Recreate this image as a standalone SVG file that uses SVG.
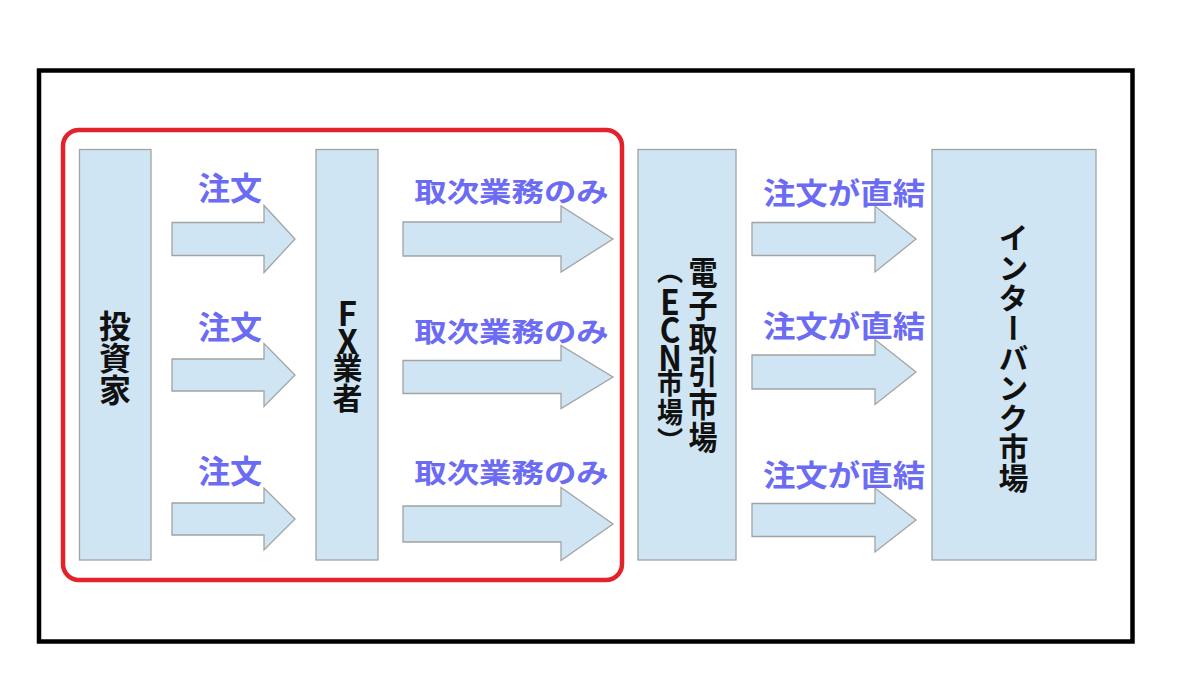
<svg xmlns="http://www.w3.org/2000/svg" width="1188" height="697" viewBox="0 0 1188 697">
<style>
.box{fill:#cfe5f3;stroke:#a3a3a3;stroke-width:1.3}
.arr{fill:#cfe5f3;stroke:#a3a3a3;stroke-width:1.3;stroke-linejoin:miter}
.lbl{font-family:"Noto Sans CJK JP","Noto Sans CJK SC",sans-serif;font-weight:bold;fill:#6b6bf3;text-anchor:middle}
.vt{font-family:"Noto Sans CJK JP","Noto Sans CJK SC",sans-serif;font-weight:bold;fill:#111;writing-mode:vertical-rl;text-orientation:upright;text-anchor:middle}
</style>
<rect width="1188" height="697" fill="#fff"/>
<rect id="frame" x="39" y="70.5" width="1093.5" height="571" fill="none" stroke="#000" stroke-width="4.5"/>
<rect id="broker-group" x="63" y="130" width="559" height="450" rx="16" fill="none" stroke="#e3232b" stroke-width="4.5"/>
<g id="investor">
<rect class="box" x="79.5" y="149.5" width="71.5" height="410.5"/>
<text class="vt" x="115" y="358" font-size="32">投資家</text>
</g>
<g id="fx-broker">
<rect class="box" x="316" y="149.5" width="62" height="410.5"/>
<text class="vt" x="347.5" y="355" font-size="30"><tspan font-size="33" letter-spacing="-5">FX</tspan>業者</text>
</g>
<g id="ecn">
<rect class="box" x="638" y="149.5" width="98" height="410.5"/>
<text class="vt" transform="translate(703,355) scale(0.88,1)" x="0" y="0" font-size="33">電子取引市場</text>
<text class="vt" transform="translate(670,355) scale(0.9,1)" x="0" y="0" font-size="29">（<tspan font-size="35" letter-spacing="-7">ECN</tspan>市場）</text>
</g>
<g id="interbank">
<rect class="box" x="932" y="149.5" width="164" height="410.5"/>
<text class="vt" x="1013.5" y="357.5" font-size="30">インターバンク市場</text>
</g>
<g id="connectors">
<path class="arr" d="M172,222.5H264V205.5L295,239L264,272.5V255.5H172Z"/>
<path class="arr" d="M172,359H264V343.5L295,375L264,406.5V391H172Z"/>
<path class="arr" d="M172,503H264V488L295,519L264,550V535H172Z"/>
<path class="arr" d="M403,222H561V206L613,239L561,272V256H403Z"/>
<path class="arr" d="M403,360.5H561V345.5L613,377L561,408.5V393.5H403Z"/>
<path class="arr" d="M403,506H561V487.5L613,524L561,560.5V542H403Z"/>
<path class="arr" d="M752,222.5H875V206L916,239L875,272V255.5H752Z"/>
<path class="arr" d="M752,355H875V339.5L916,372L875,404.5V389H752Z"/>
<path class="arr" d="M752,503.5H875V488L916,520L875,552V536.5H752Z"/>
<text class="lbl" font-size="31.5" transform="translate(230,200) scale(1.02,1)">注文</text>
<text class="lbl" font-size="31.5" transform="translate(230,338.5) scale(1.02,1)">注文</text>
<text class="lbl" font-size="31.5" transform="translate(230,483) scale(1.02,1)">注文</text>
<text class="lbl" font-size="27" transform="translate(511.5,202.3) scale(1.2,1)">取次業務のみ</text>
<text class="lbl" font-size="27" transform="translate(511.5,342.3) scale(1.2,1)">取次業務のみ</text>
<text class="lbl" font-size="27" transform="translate(511.5,483.3) scale(1.2,1)">取次業務のみ</text>
<text class="lbl" font-size="29.5" transform="translate(844,204.2) scale(1.1,1)">注文が直結</text>
<text class="lbl" font-size="29.5" transform="translate(844,336.7) scale(1.1,1)">注文が直結</text>
<text class="lbl" font-size="29.5" transform="translate(844,486.2) scale(1.1,1)">注文が直結</text>
</g>
</svg>
